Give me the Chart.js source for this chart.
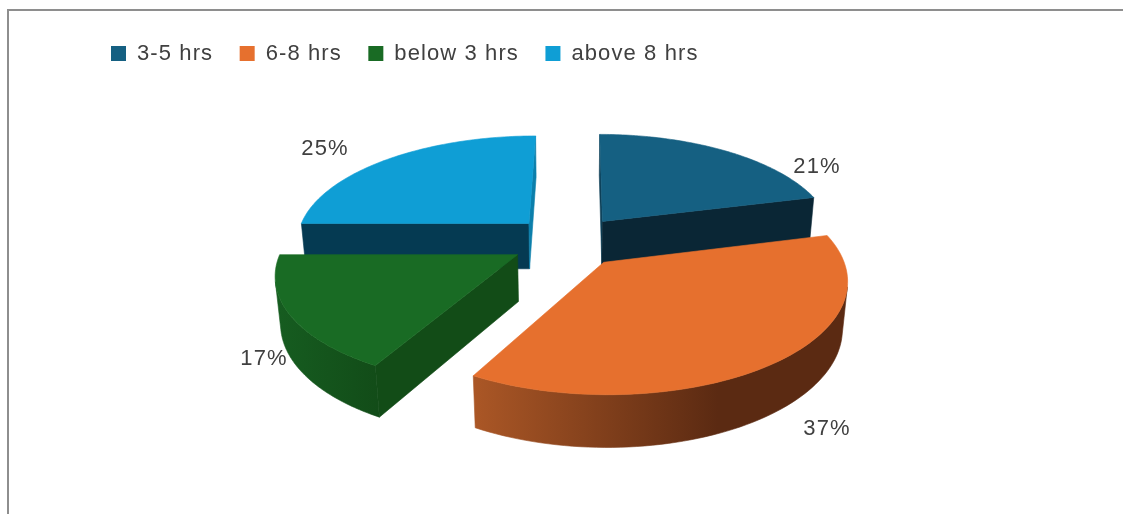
<!DOCTYPE html>
<html>
<head>
<meta charset="utf-8">
<title>Hours pie</title>
<script src="https://cdn.jsdelivr.net/npm/chart.js@4"></script>
<style>
    html, body { margin: 0; padding: 0; background: #fff; overflow: hidden; }
    #frame { position: absolute; left: 7px; top: 9px; right: -5px; bottom: -5px; border: 2px solid #8e8e8e; }
    #myChart { position: absolute; left: 0; top: 0; }
</style>
</head>
<body>
<div id="frame"></div>
<canvas id="myChart" width="1123" height="514"></canvas>
<script>
let categories = ['3-5 hrs', '6-8 hrs', 'below 3 hrs', 'above 8 hrs'];
let hoursShare = [21, 37, 17, 25];

let sliceColors = ['#156082', '#E6702E', '#196B24', '#0F9ED5'];
// start radial wall, end radial wall
let startWallColors = ['#0D3F57', '#7A3A17', '#124C17', '#053A52'];
let endWallColors = ['#0A2635', '#7A3A17', '#124C17', '#0C7FAB'];
// outer wall goes from one colour to the other across x (px from centre)
let rimShades = [
    ['#0A2635', '#0A2635', 0, 100],
    ['#AB5726', '#5B2A12', -95, 150],
    ['#165C20', '#124C18', -289, -190],
    ['#053A52', '#053A52', -300, 0]
];
let labelOffsets = [[249, -74], [259, 188], [-304, 118], [-243, -92]];
let drawOrder = [3, 0, 2, 1];

// projection of the pie plane, all relative to the arc radius
let explode = 0.245;
let scaleX = 1.4;
let scaleY = 0.633;
let skewX = -0.012;
let perspective = 0.15;
let depth = 0.282;
let depthShrink = 0.018;

let textFont = "22px 'Liberation Sans', sans-serif";
let letterGap = '1.1px';

function project(arc, x, y, isBottom) {
    let r = arc.outerRadius;
    let w = 1 - perspective * y + (isBottom ? depthShrink : 0);
    return {
        x: arc.x + r * (scaleX * x + skewX * y) / w,
        y: arc.y + r * (scaleY * y + (isBottom ? depth : 0)) / w
    };
}

function fillPoly(ctx, pts, color) {
    ctx.beginPath();
    pts.forEach(function(p, i) {
        if (i === 0) ctx.moveTo(p.x, p.y);
        else ctx.lineTo(p.x, p.y);
    });
    ctx.closePath();
    ctx.fillStyle = color;
    ctx.strokeStyle = color;
    ctx.lineWidth = 0.6;
    ctx.fill();
    ctx.stroke();
}

function polyArea(pts) {
    let sum = 0;
    pts.forEach(function(p, i) {
        let q = pts[(i + 1) % pts.length];
        sum += p.x * q.y - q.x * p.y;
    });
    return sum;
}

function wallQuad(arc, a, b) {
    return [
        project(arc, a.x, a.y, false),
        project(arc, b.x, b.y, false),
        project(arc, b.x, b.y, true),
        project(arc, a.x, a.y, true)
    ];
}

function drawWall(ctx, arc, a, b, color) {
    let quad = wallQuad(arc, a, b);
    // only walls turned to the viewer
    if (polyArea(quad) < 0) fillPoly(ctx, quad, color);
}

function drawRim(ctx, arc, rim, i) {
    let upper = [];
    let lower = [];
    for (let s = 0; s < rim.length - 1; s++) {
        let quad = wallQuad(arc, rim[s], rim[s + 1]);
        if (polyArea(quad) < 0) {
            if (upper.length === 0) {
                upper.push(quad[0]);
                lower.push(quad[3]);
            }
            upper.push(quad[1]);
            lower.push(quad[2]);
        }
    }
    if (upper.length === 0) return;
    let shade = rimShades[i];
    let gradient = ctx.createLinearGradient(arc.x + shade[2], 0, arc.x + shade[3], 0);
    gradient.addColorStop(0, shade[0]);
    gradient.addColorStop(1, shade[1]);
    fillPoly(ctx, upper.concat(lower.reverse()), gradient);
}

function drawSlice(ctx, arc, i) {
    let mid = (arc.startAngle + arc.endAngle) / 2;
    let apex = { x: explode * Math.cos(mid), y: explode * Math.sin(mid) };
    let rim = [];
    let steps = 80;
    for (let s = 0; s <= steps; s++) {
        let angle = arc.startAngle + (arc.endAngle - arc.startAngle) * s / steps;
        rim.push({ x: apex.x + Math.cos(angle), y: apex.y + Math.sin(angle) });
    }

    drawWall(ctx, arc, apex, rim[0], startWallColors[i]);
    drawWall(ctx, arc, rim[steps], apex, endWallColors[i]);
    drawRim(ctx, arc, rim, i);

    let top = [project(arc, apex.x, apex.y, false)];
    rim.forEach(function(p) {
        top.push(project(arc, p.x, p.y, false));
    });
    fillPoly(ctx, top, sliceColors[i]);
}

let pie3d = {
    id: 'pie3d',
    beforeLayout: function(chart) {
        chart.ctx.letterSpacing = letterGap;
    },
    beforeDraw: function(chart) {
        chart.ctx.letterSpacing = letterGap;
    },
    beforeDatasetDraw: function(chart) {
        let ctx = chart.ctx;
        let arcs = chart.getDatasetMeta(0).data;
        ctx.save();
        drawOrder.forEach(function(i) {
            drawSlice(ctx, arcs[i], i);
        });
        ctx.font = textFont;
        ctx.fillStyle = '#404040';
        ctx.textAlign = 'center';
        ctx.textBaseline = 'middle';
        arcs.forEach(function(arc, i) {
            ctx.fillText(hoursShare[i] + '%', arc.x + labelOffsets[i][0], arc.y + labelOffsets[i][1]);
        });
        ctx.restore();
        return false;
    }
};

let ctx = document.getElementById('myChart').getContext('2d');
let myChart = new Chart(ctx, {
    type: 'pie',
    data: {
        labels: categories,
        datasets: [{
            data: hoursShare,
            backgroundColor: sliceColors,
            borderWidth: 0
        }]
    },
    options: {
        responsive: false,
        animation: false,
        layout: {
            padding: { top: 16, left: 84.5, right: 71.5, bottom: 106 }
        },
        plugins: {
            tooltip: { enabled: false },
            legend: {
                position: 'top',
                align: 'start',
                labels: {
                    boxWidth: 15,
                    boxHeight: 15,
                    padding: 26.5,
                    color: '#404040',
                    font: { family: "'Liberation Sans', sans-serif", size: 22 }
                }
            }
        }
    },
    plugins: [pie3d]
});
</script>
</body>
</html>
